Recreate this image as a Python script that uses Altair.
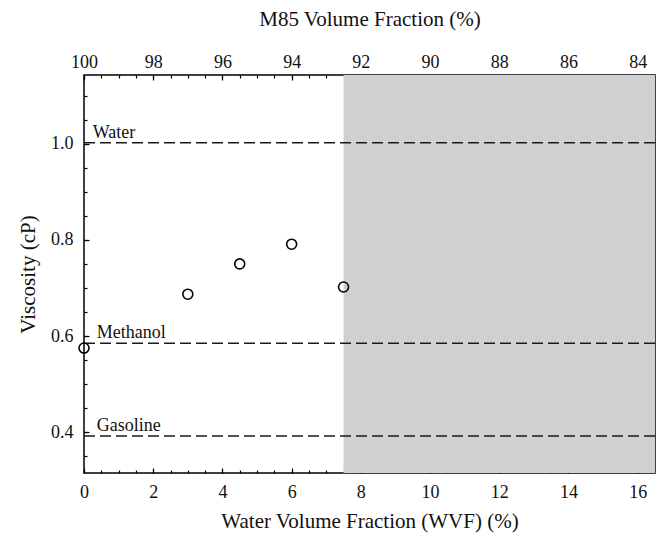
import altair as alt
import pandas as pd

# Data
wvf = [0, 3, 4.5, 6, 7.5]
viscosity = [0.575, 0.687, 0.750, 0.791, 0.702]

ref_names = ["Water", "Methanol", "Gasoline"]
ref_viscosity = [1.002, 0.585, 0.392]
ref_label_x = [0.25, 0.37, 0.37]

shade_start = [7.5]
shade_end = [16.5]

x_domain = [0, 16.5]
y_domain = [0.315, 1.143]
x_major = [0, 2, 4, 6, 8, 10, 12, 14, 16]
x_minor = [0, 0.5, 1, 1.5, 2, 2.5, 3, 3.5, 4, 4.5, 5, 5.5, 6, 6.5, 7, 7.5, 8,
           8.5, 9, 9.5, 10, 10.5, 11, 11.5, 12, 12.5, 13, 13.5, 14, 14.5, 15,
           15.5, 16]
y_major = [0.4, 0.6, 0.8, 1.0]
y_minor = [0.35, 0.4, 0.45, 0.5, 0.55, 0.6, 0.65, 0.7, 0.75, 0.8, 0.85, 0.9,
           0.95, 1.0, 1.05, 1.1]

FONT = "Liberation Serif"

pts = pd.DataFrame({"w": wvf, "v": viscosity})
refs = pd.DataFrame({"name": ref_names, "v": ref_viscosity, "lx": ref_label_x})
shade_df = pd.DataFrame({"s": shade_start, "e": shade_end})

xs = alt.Scale(domain=x_domain, nice=False, zero=False)
ys = alt.Scale(domain=y_domain, nice=False, zero=False)


def ax(**kw):
    common = dict(domain=False, grid=False, tickColor="black", tickWidth=1.2,
                  labelFont=FONT, titleFont=FONT, labelColor="#111",
                  titleColor="#111", labelFontSize=18, titleFontSize=21,
                  titleFontWeight="normal", labelFlush=False)
    common.update(kw)
    return alt.Axis(**common)


shade = alt.Chart(shade_df).mark_rect(color="#d0d0d0").encode(
    x=alt.X("s:Q", scale=xs,
            axis=ax(orient="bottom", values=x_major, offset=-5, tickSize=5,
                    labelPadding=10, title="Water Volume Fraction (WVF) (%)",
                    titlePadding=9)),
    x2="e:Q",
)

rules = alt.Chart(refs).mark_rule(color="#1a1a1a", strokeDash=[11, 5],
                                  strokeWidth=1.5).encode(
    y=alt.Y("v:Q", scale=ys,
            axis=ax(orient="left", values=y_major, format=".1f", offset=-5,
                    tickSize=5, labelPadding=11, title="Viscosity (cP)",
                    titlePadding=12)),
)

labels = alt.Chart(refs).mark_text(align="left", baseline="alphabetic", dy=-5,
                                   font=FONT, fontSize=18,
                                   color="#111").encode(
    x=alt.X("lx:Q", scale=xs,
            axis=ax(orient="top", values=x_major, offset=-5, tickSize=5,
                    labelPadding=4, labelExpr="100 - datum.value",
                    title="M85 Volume Fraction (%)", titlePadding=24)),
    y=alt.Y("v:Q", scale=ys, axis=None),
    text="name:N",
)

points = alt.Chart(pts).mark_point(shape="circle", filled=False, size=100,
                                   color="black", strokeWidth=1.6,
                                   opacity=1).encode(
    x=alt.X("w:Q", scale=xs,
            axis=ax(orient="bottom", values=x_minor, offset=-3, tickSize=3,
                    labels=False, title=None)),
    y=alt.Y("v:Q", scale=ys,
            axis=ax(orient="left", values=y_minor, offset=-3, tickSize=3,
                    labels=False, title=None)),
)

top_minor = alt.Chart(pts).mark_point(opacity=0).encode(
    x=alt.X("w:Q", scale=xs,
            axis=ax(orient="top", values=x_minor, offset=-3, tickSize=3,
                    labels=False, title=None)),
    y=alt.Y("v:Q", scale=ys, axis=None),
)

chart = alt.layer(shade, rules, labels, points, top_minor).resolve_axis(
    x="independent", y="independent"
).properties(
    width=571,
    height=398,
    padding={"left": 84, "top": 75, "right": 4, "bottom": 63},
    autosize=alt.AutoSizeParams(type="none"),
    background="white",
).configure_view(stroke="black", strokeWidth=1.5)

chart.save("out.html", embed_options={"renderer": "svg", "actions": False})
